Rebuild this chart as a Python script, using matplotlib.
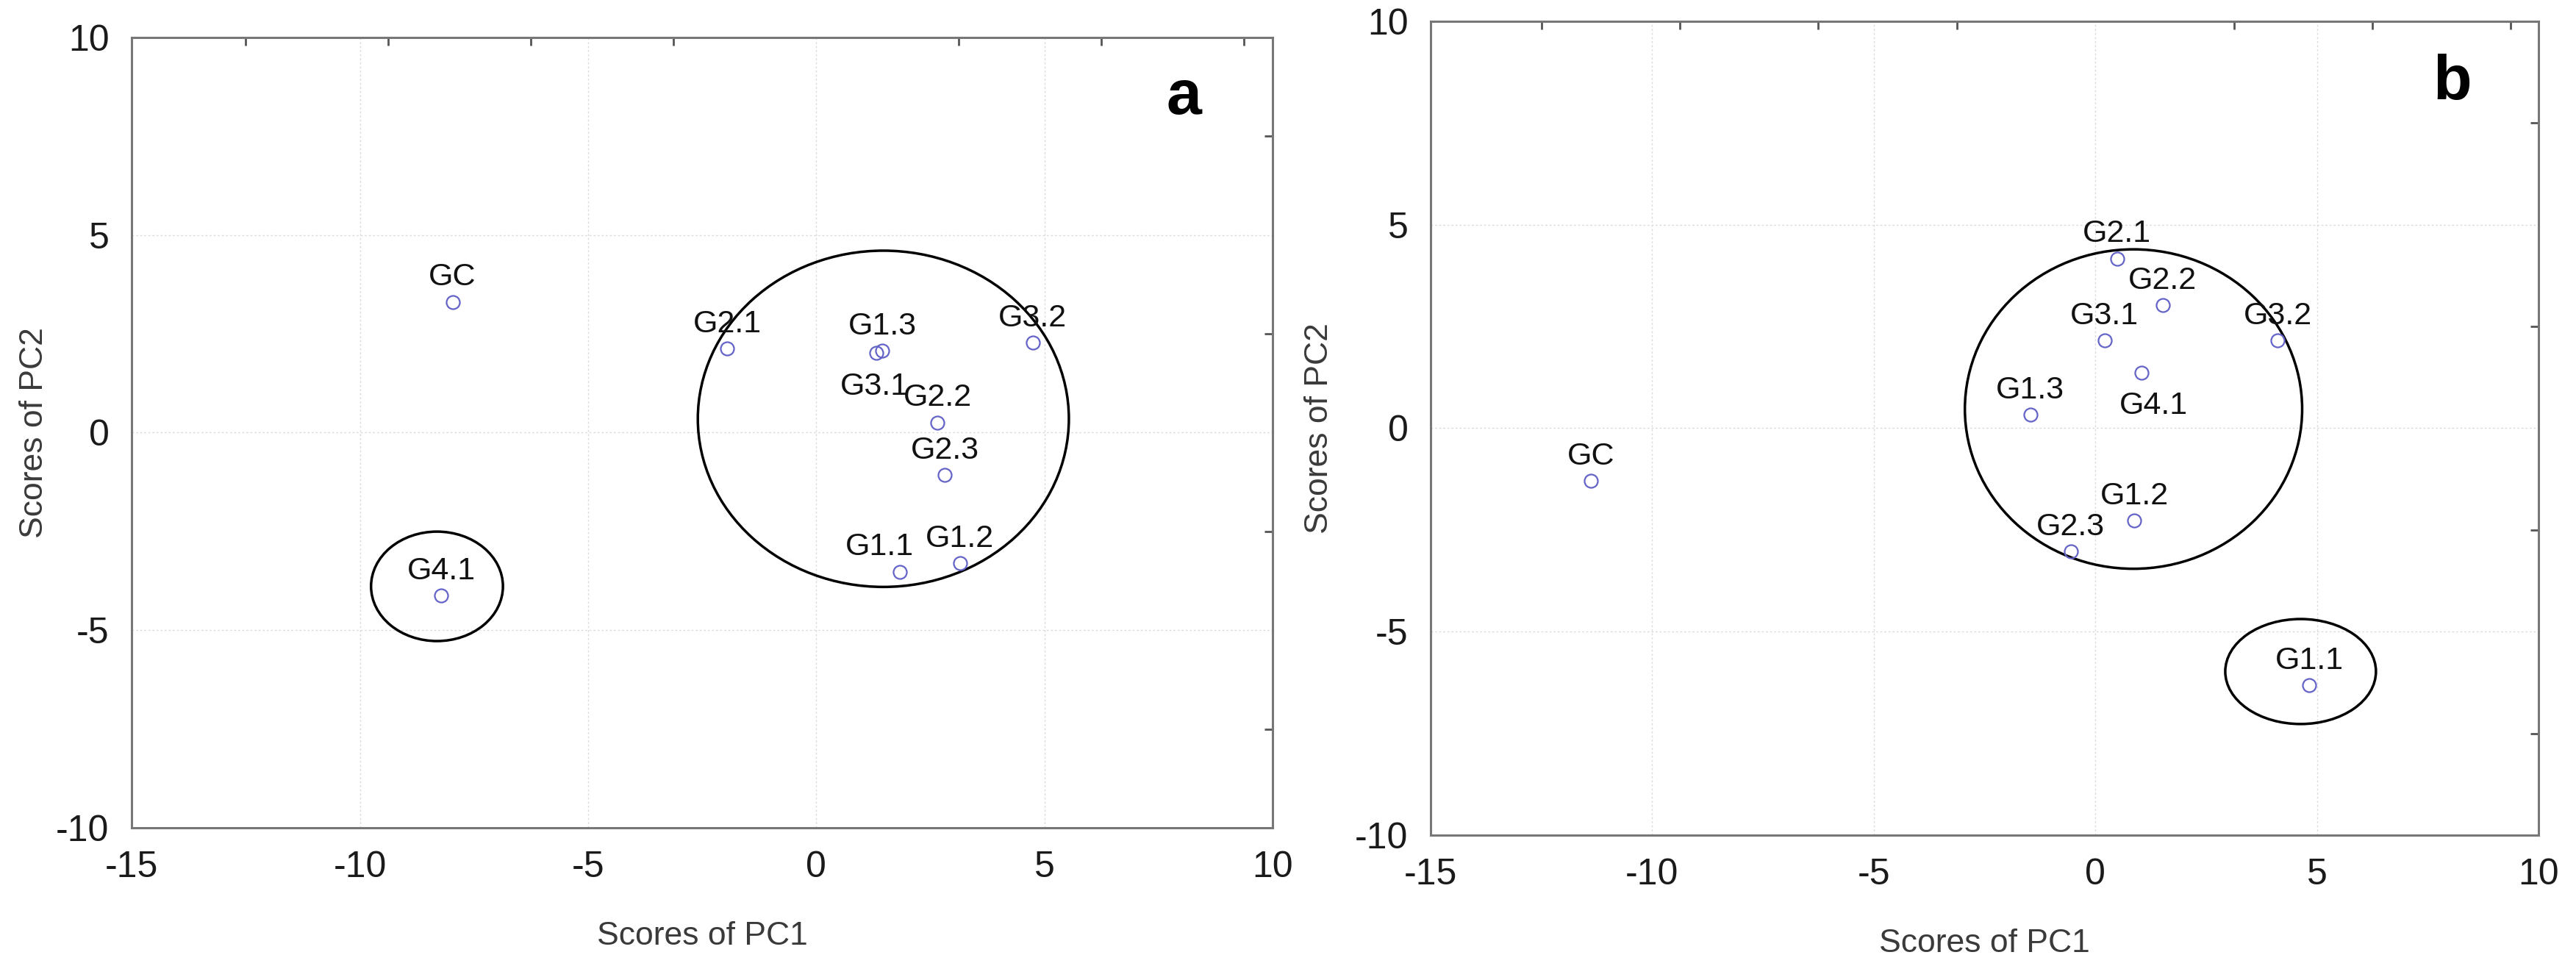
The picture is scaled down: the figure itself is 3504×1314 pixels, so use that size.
import matplotlib
matplotlib.use('Agg')
import matplotlib.pyplot as plt
from matplotlib.patches import Ellipse
from matplotlib.ticker import MultipleLocator

plt.rcParams['axes.unicode_minus'] = False

# panel a scores
names_a = ['GC', 'G2.1', 'G1.3', 'G3.1', 'G3.2', 'G2.2', 'G2.3', 'G1.1', 'G1.2', 'G4.1']
pc1_a = [-7.97, -1.95, 1.45, 1.32, 4.74, 2.66, 2.82, 1.83, 3.15, -8.22]
pc2_a = [3.31, 2.13, 2.07, 2.02, 2.27, 0.26, -1.07, -3.52, -3.31, -4.12]

# panel b scores
names_b = ['GC', 'G2.1', 'G2.2', 'G3.1', 'G3.2', 'G4.1', 'G1.3', 'G1.2', 'G2.3', 'G1.1']
pc1_b = [-11.38, 0.49, 1.52, 0.21, 4.11, 1.04, -1.47, 0.88, -0.56, 4.83]
pc2_b = [-1.30, 4.17, 3.02, 2.15, 2.15, 1.36, 0.33, -2.27, -3.03, -6.32]

# group outlines: (centre x, centre y, width, height)
groups_a = [(1.47, 0.35, 8.13, 8.51), (-8.31, -3.89, 2.89, 2.77)]
groups_b = [(0.86, 0.47, 7.61, 7.85), (4.63, -5.98, 3.40, 2.58)]

REG = ['Liberation Sans', 'DejaVu Sans']

# label offsets in points; default is centred above the point
offsets_a = {'G3.1': (-2, -19, 'top'), 'G1.1': (-20, 16, 'baseline')}
offsets_b = {'G4.1': (12, -18, 'top')}


def draw_panel(ax, names, xs, ys, groups, offsets, letter, ylab_x):
    ax.set_xlim(-15, 10)
    ax.set_ylim(-10, 10)
    ax.xaxis.set_major_locator(MultipleLocator(5))
    ax.yaxis.set_major_locator(MultipleLocator(5))
    ax.xaxis.set_minor_locator(MultipleLocator(25 / 8))
    ax.yaxis.set_minor_locator(MultipleLocator(2.5))
    ax.grid(True, which='major', color='#dcdcdc', linestyle=(0, (2, 2)), linewidth=1.0, zorder=0)
    ax.tick_params(which='major', length=0, pad=22, labelsize=36, labelcolor='#1a1a1a')
    ax.tick_params(which='minor', bottom=False, left=False, top=True, right=True,
                   direction='in', length=8, width=2, color='#555555')
    for lab in ax.get_xticklabels() + ax.get_yticklabels():
        lab.set_family(REG)
    for s in ax.spines.values():
        s.set_color('#777777')
        s.set_linewidth(2.2)

    ax.plot(xs, ys, 'o', ms=13, mfc='none', mec='#6464c8', mew=1.6, zorder=3)
    for n, x, y in zip(names, xs, ys):
        dx, dy, va = offsets.get(n, (0, 16, 'baseline'))
        ax.annotate(n, (x, y), xytext=(dx, dy), textcoords='offset points',
                    ha='center', va=va, fontsize=31, family=REG, color='#111111', zorder=4)

    for cx, cy, w, h in groups:
        ax.add_patch(Ellipse((cx, cy), w, h, fill=False, edgecolor='black', linewidth=2.5, zorder=2))

    ax.text(0.922, 0.924, letter, transform=ax.transAxes, ha='center', va='center',
            fontsize=62, fontweight='bold', family=REG, color='black')
    ax.set_xlabel('Scores of PC1', fontsize=32, family=REG, color='#3a3a3a', labelpad=36)
    ax.set_ylabel('Scores of PC2', fontsize=32, family=REG, color='#3a3a3a')
    ax.yaxis.set_label_coords(ylab_x, 0.5)


fig = plt.figure(figsize=(35.05, 13.14), dpi=100)
ax_a = fig.add_axes([0.0511, 0.1431, 0.4428, 0.8181])
ax_b = fig.add_axes([0.5552, 0.1355, 0.4300, 0.8425])

draw_panel(ax_a, names_a, pc1_a, pc2_a, groups_a, offsets_a, 'a', -0.072)
draw_panel(ax_b, names_b, pc1_b, pc2_b, groups_b, offsets_b, 'b', -0.087)

fig.savefig('out.png', dpi=100)
